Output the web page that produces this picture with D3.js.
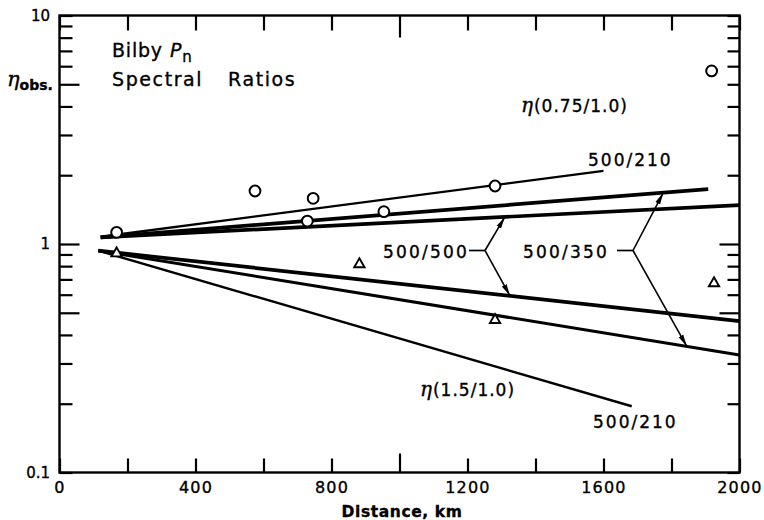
<!DOCTYPE html>
<html lang="en">
<head>
<meta charset="UTF-8">
<title>Bilby Pn spectral ratios</title>
<script src="https://cdn.jsdelivr.net/npm/d3@7"></script>
<style>
  body { margin: 0; background: #fff; }
  svg text { font-family: "DejaVu Sans", sans-serif; fill: #000; stroke: #000; stroke-width: 0.35; }
  .axis path.domain { display: none; }
  .axis line { stroke: #000; stroke-width: 2.2; }
</style>
</head>
<body>
<svg width="764" height="520"></svg>
<script>
// tick values
const xTicks = d3.range(0, 2001, 200);
const xLabels = [0, 400, 800, 1200, 1600, 2000];
const yTicks = [0.1, 0.2, 0.3, 0.4, 0.5, 0.6, 0.7, 0.8, 0.9, 1, 2, 3, 4, 5, 6, 7, 8, 9, 10];
const yLabels = [0.1, 1, 10];

// curves [distance km, eta]
// eta(0.75/1.0)
const upper210 = [[121, 1.076], [1600, 2.09]];
const upper350 = [[121, 1.07], [1908, 1.74]];
const upper500 = [[121, 1.07], [2000, 1.48]];
// eta(1.5/1.0)
const lower500 = [[114, 0.935], [2000, 0.46]];
const lower350 = [[114, 0.935], [2000, 0.327]];
const lower210 = [[114, 0.935], [1683, 0.195]];

// observed ratios
const circlePts = [[168, 1.125], [575, 1.706], [729, 1.26], [746, 1.585], [954, 1.385], [1281, 1.794], [1918, 5.72]];
const trianglePts = [[168, 0.91], [882, 0.815], [1281, 0.465], [1925, 0.673]];

const svg = d3.select("svg");

const x = d3.scaleLinear().domain([0, 2000]).range([59.5, 739.5]);
const y = d3.scaleLog().domain([0.1, 10]).range([472.5, 15.5]);

svg.append("defs").append("marker")
    .attr("id", "head")
    .attr("markerUnits", "userSpaceOnUse")
    .attr("viewBox", "0 -3 12 6")
    .attr("refX", 12).attr("refY", 0)
    .attr("markerWidth", 12).attr("markerHeight", 6)
    .attr("orient", "auto")
  .append("path")
    .attr("d", "M0,-2.6L12,0L0,2.6Z")
    .attr("fill", "#000");

// axes, ticks pointing inward
const axBottom = svg.append("g").attr("class", "axis")
    .attr("transform", `translate(0,${y(0.1)})`)
    .call(d3.axisBottom(x).tickValues(xTicks).tickSize(-14).tickPadding(9)
        .tickFormat(d => xLabels.includes(d) ? d : ""));
axBottom.selectAll(".tick line").attr("y2", d => d === 1000 ? -19 : -14);
axBottom.selectAll(".tick text")
    .attr("font-size", 16).attr("letter-spacing", 1.2)
    .attr("font-family", "DejaVu Sans");

const axTop = svg.append("g").attr("class", "axis")
    .attr("transform", `translate(0,${y(10)})`)
    .call(d3.axisTop(x).tickValues(xTicks).tickSize(-15).tickFormat(""));
axTop.selectAll(".tick line").attr("y2", d => d === 1000 ? 22 : 15);

const axLeft = svg.append("g").attr("class", "axis")
    .attr("transform", `translate(${x(0)},0)`)
    .call(d3.axisLeft(y).tickValues(yTicks).tickSize(-13).tickPadding(9.5)
        .tickFormat(d => yLabels.includes(d) ? String(d) : ""));
axLeft.selectAll(".tick line").attr("x2", d => (d === 0.5 || d === 1 || d === 5) ? 20 : 13);
axLeft.selectAll(".tick text")
    .attr("font-size", 15).attr("font-family", "DejaVu Sans");

const axRight = svg.append("g").attr("class", "axis")
    .attr("transform", `translate(${x(2000)},0)`)
    .call(d3.axisRight(y).tickValues(yTicks).tickSize(-12).tickFormat(""));
axRight.selectAll(".tick line").attr("x2", d => (d === 0.5 || d === 1) ? -20 : -12);

// frame
svg.append("rect")
    .attr("x", x(0)).attr("y", y(10))
    .attr("width", x(2000) - x(0)).attr("height", y(0.1) - y(10))
    .attr("fill", "none").attr("stroke", "#000").attr("stroke-width", 2.4);

// curves
const line = d3.line().x(d => x(d[0])).y(d => y(d[1]));
const curves = [
  [upper210, 2.4], [upper350, 3.7], [upper500, 3.7],
  [lower500, 3.7], [lower350, 3.0], [lower210, 2.4]
];
svg.append("g").selectAll("path").data(curves).join("path")
    .attr("d", d => line(d[0]))
    .attr("fill", "none").attr("stroke", "#000")
    .attr("stroke-width", d => d[1]);

// points
svg.append("g").selectAll("circle").data(circlePts).join("circle")
    .attr("cx", d => x(d[0])).attr("cy", d => y(d[1])).attr("r", 5.4)
    .attr("fill", "#fff").attr("stroke", "#000").attr("stroke-width", 2);

svg.append("g").selectAll("path").data(trianglePts).join("path")
    .attr("transform", d => `translate(${x(d[0])},${y(d[1])})`)
    .attr("d", d3.symbol(d3.symbolTriangle, 46))
    .attr("fill", "#fff").attr("stroke", "#000").attr("stroke-width", 1.9);

// value of a curve at a distance (log-linear)
function etaAt(c, km) {
  const t = (km - c[0][0]) / (c[1][0] - c[0][0]);
  return Math.exp(Math.log(c[0][1]) + t * (Math.log(c[1][1]) - Math.log(c[0][1])));
}

// bracket labels with arrows
function bracket(label, tx, ty, jx, targets) {
  svg.append("text").attr("x", tx).attr("y", ty)
      .attr("font-size", 17).attr("letter-spacing", 2.2).text(label);
  svg.append("line").attr("x1", jx - 16).attr("x2", jx).attr("y1", ty - 7.5).attr("y2", ty - 7.5)
      .attr("stroke", "#000").attr("stroke-width", 1.7);
  targets.forEach(([c, km]) => {
    svg.append("line")
        .attr("x1", jx).attr("y1", ty - 7.5)
        .attr("x2", x(km)).attr("y2", y(etaAt(c, km)))
        .attr("stroke", "#000").attr("stroke-width", 1.6)
        .attr("marker-end", "url(#head)");
  });
}
bracket("500/500", 383, 258, 485, [[upper500, 1310], [lower500, 1325]]);
bracket("500/350", 523, 258, 633, [[upper350, 1776], [lower350, 1845]]);

// curve labels
function etaLabel(tx, ty, rest) {
  const t = svg.append("text").attr("x", tx).attr("y", ty).attr("font-size", 17).attr("letter-spacing", 1);
  t.append("tspan").attr("font-family", "DejaVu Serif").attr("font-style", "italic")
      .attr("font-size", 20).text("η");
  t.append("tspan").text(rest);
}
etaLabel(521, 112, "(0.75/1.0)");
etaLabel(420, 396, "(1.5/1.0)");

svg.append("text").attr("x", 588).attr("y", 166)
    .attr("font-size", 17).attr("letter-spacing", 2).text("500/210");
svg.append("text").attr("x", 593).attr("y", 428)
    .attr("font-size", 17).attr("letter-spacing", 2).text("500/210");

// title
const t1 = svg.append("text").attr("x", 112).attr("y", 57).attr("font-size", 19).attr("letter-spacing", 0.8);
t1.append("tspan").text("Bilby");
t1.append("tspan").attr("x", 170).attr("font-style", "italic").text("P");
t1.append("tspan").attr("dy", 5).attr("font-size", 15).text("n");

const t2 = svg.append("text").attr("x", 112).attr("y", 86).attr("font-size", 19).attr("letter-spacing", 1.6);
t2.append("tspan").text("Spectral");
t2.append("tspan").attr("x", 228).text("Ratios");

// y label
const yl = svg.append("text").attr("x", 7).attr("y", 86);
yl.append("tspan").attr("font-family", "DejaVu Serif").attr("font-style", "italic")
    .attr("font-size", 21).text("η");
yl.append("tspan").attr("dy", 4).attr("font-size", 14).attr("font-weight", "bold").text("obs.");

// x label
svg.append("text").attr("x", 402).attr("y", 517).attr("text-anchor", "middle")
    .attr("font-size", 15.5).attr("font-weight", "bold").attr("letter-spacing", 0.6)
    .text("Distance,  km");
</script>
</body>
</html>
